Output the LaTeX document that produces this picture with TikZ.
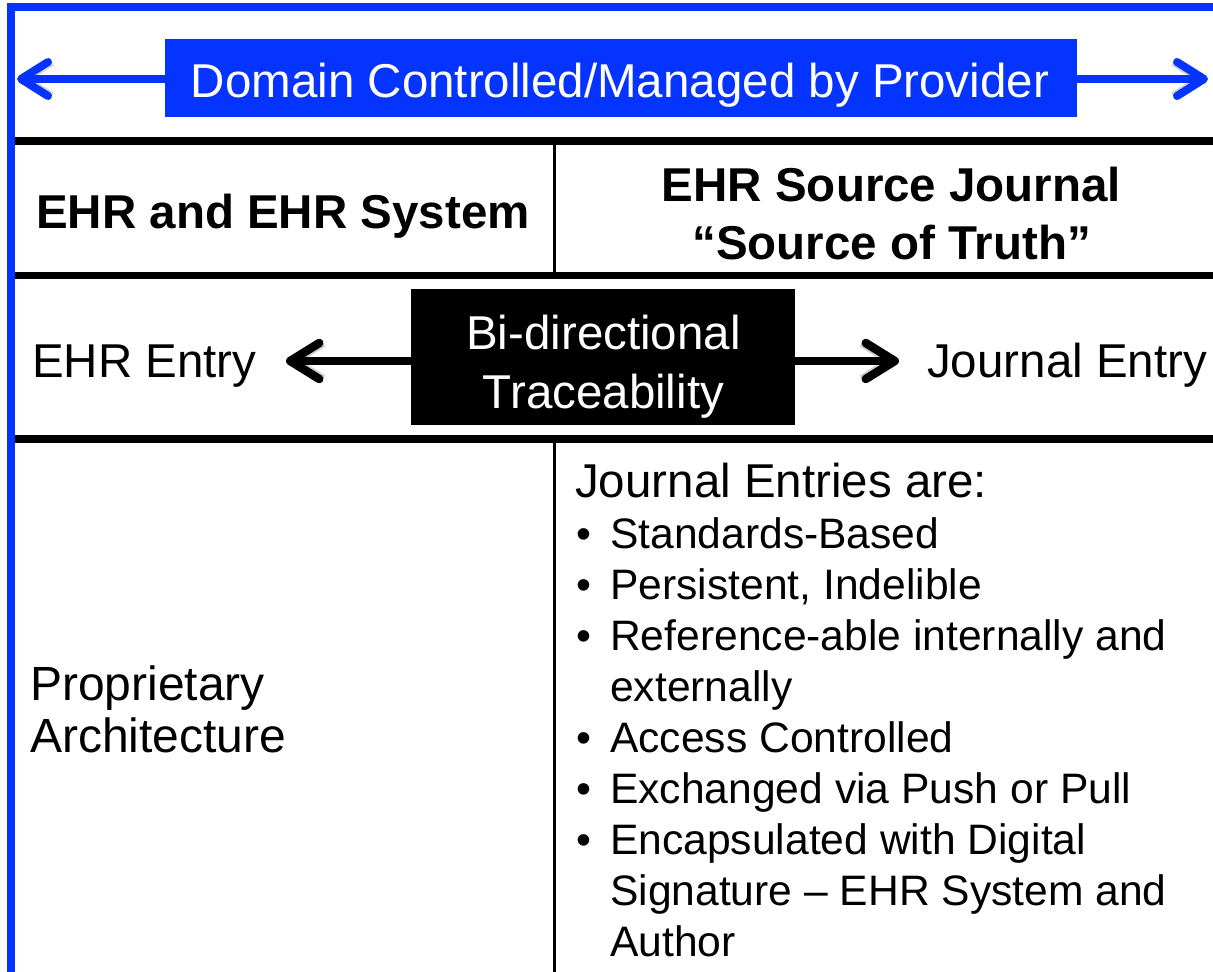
\documentclass[tikz,border=0pt]{standalone}
\usepackage{fontspec}
\setmainfont{Liberation Sans}
\usetikzlibrary{arrows.meta}
\definecolor{frameblue}{RGB}{5,51,255}
\pgfdeclarelayer{bg}
\pgfsetlayers{bg,main}
\begin{document}
\begin{tikzpicture}[x=1pt,y=-1pt,
  txt/.style={inner sep=0pt, font=\fontsize{47.5}{57}\selectfont},
  ltxt/.style={inner sep=0pt, font=\fontsize{42.6}{51}\selectfont},
  btxt/.style={inner sep=0pt, font=\fontsize{47.5}{57}\selectfont\bfseries},
  wtxt/.style={txt, text=white},
  bluebox/.style={fill=frameblue, inner sep=0pt, minimum width=912pt, minimum height=78pt},
  blackbox/.style={fill=black, inner sep=0pt, minimum width=384pt, minimum height=136pt},
  frame/.style={draw=frameblue, line width=8pt},
  rule/.style={draw=black, line width=8pt},
  divider/.style={draw=black, line width=3pt},
  bluearrow/.style={draw=frameblue, line width=8pt, line cap=round,
    -{Straight Barb[length=27pt,width=34pt,round]}},
  blackarrow/.style={draw=black, line width=8.5pt, line cap=round,
    -{Straight Barb[length=29pt,width=36pt,round]}},
  shadow/.style={draw=black, draw opacity=0.18, line cap=butt, shift={(2pt,-3pt)}},
]
\useasboundingbox (0,0) rectangle (1213,972);
\begin{pgfonlayer}{bg}
\fill[white] (0,0) rectangle (1213,972);
\end{pgfonlayer}

% coordinates
\coordinate (fr1) at (1213,6.5);
\coordinate (fr2) at (11,6.5);
\coordinate (fr3) at (11,972);
\coordinate (lt) at (17,79);
\coordinate (rt) at (1208,79);
\coordinate (r1a) at (15,141);   \coordinate (r1b) at (1213,141);
\coordinate (r2a) at (15,275.5); \coordinate (r2b) at (1213,275.5);
\coordinate (r3a) at (15,438.5); \coordinate (r3b) at (1213,438.5);
\coordinate (d1a) at (554.5,145); \coordinate (d1b) at (554.5,272);
\coordinate (d2a) at (554.5,442); \coordinate (d2b) at (554.5,972);
\coordinate (el) at (286,361);
\coordinate (jr) at (899,361);

% frame
\draw[frame] (fr1) -- (fr2) -- (fr3);

% table rules
\draw[rule] (r1a) -- (r1b);
\draw[rule, line width=7pt] (r2a) -- (r2b);
\draw[rule] (r3a) -- (r3b);
\draw[divider] (d1a) -- (d1b);
\draw[divider] (d2a) -- (d2b);

% top blue box and arrows
\node[bluebox] (dom) at (621,78) {};
\begin{pgfonlayer}{bg}
\draw[shadow, line width=8pt, -{Straight Barb[length=27pt,width=34pt]}] (dom.west |- lt) -- (lt);
\draw[shadow, line width=8pt, -{Straight Barb[length=27pt,width=34pt]}] (dom.east |- rt) -- (rt);
\end{pgfonlayer}
\draw[bluearrow] (dom.west |- lt) -- (lt);
\draw[bluearrow] (dom.east |- rt) -- (rt);
\node[wtxt, anchor=base] (domtxt) at (620,97) {Domain Controlled/Managed by Provider};

% header row
\node[btxt, anchor=base west] (ehrsys) at (36,228) {EHR and EHR System};
\node[btxt, anchor=base] (src1) at (891.5,201) {EHR Source Journal};
\node[btxt, anchor=base] (src2) at (891.5,259) {“Source of Truth”};

% entry row
\node[blackbox] (trace) at (603,357) {};
\node[wtxt, anchor=base] (tr1) at (603.5,349) {Bi-directional};
\node[wtxt, anchor=base] (tr2) at (603.5,408) {Traceability};
\node[txt, anchor=base west] (ehrentry) at (32,377) {EHR Entry};
\node[txt, anchor=base west] (jentry) at (927,377) {Journal Entry};
\begin{pgfonlayer}{bg}
\draw[shadow, line width=8.5pt, -{Straight Barb[length=29pt,width=36pt]}] (trace.west |- el) -- (el);
\draw[shadow, line width=8.5pt, -{Straight Barb[length=29pt,width=36pt]}] (trace.east |- jr) -- (jr);
\end{pgfonlayer}
\draw[blackarrow] (trace.west |- el) -- (el);
\draw[blackarrow] (trace.east |- jr) -- (jr);

% bottom row
\node[inner sep=0pt, font=\fontsize{48}{57}\selectfont, anchor=base west] (prop1) at (30,700) {Proprietary};
\node[inner sep=0pt, font=\fontsize{48}{57}\selectfont, anchor=base west] (prop2) at (30,752) {Architecture};

\node[txt, anchor=base west] (jhead) at (575,497) {Journal Entries are:};
\foreach \y/\t [count=\i] in {
  548/Standards-Based,
  599/{Persistent, Indelible},
  650/Reference-able internally and,
  701/externally,
  752/Access Controlled,
  803/Exchanged via Push or Pull,
  854/Encapsulated with Digital,
  905/Signature – EHR System and,
  956/Author}{
  \node[ltxt, anchor=base west] (li\i) at (610,\y) {\t};
}
\foreach \y [count=\i] in {548,599,650,752,803,854}{
  \node[ltxt, anchor=base west] (bu\i) at (576,\y) {•};
}
\end{tikzpicture}
\end{document}
